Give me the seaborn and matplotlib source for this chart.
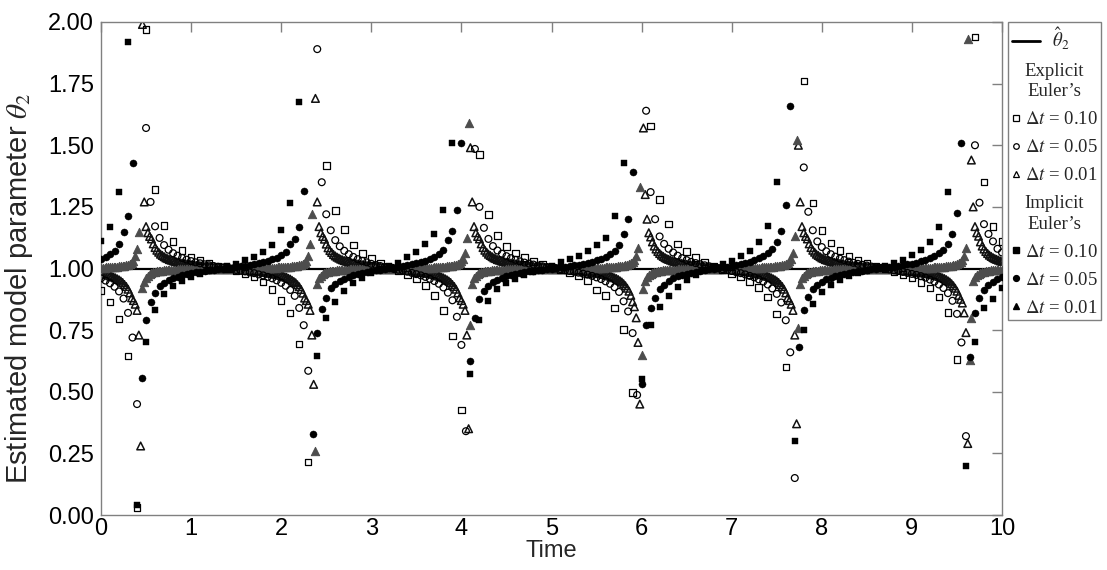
import numpy as np
import matplotlib
matplotlib.use("Agg")
import matplotlib.pyplot as plt
import seaborn as sns
from matplotlib.lines import Line2D
from matplotlib.patches import Rectangle
from matplotlib.legend_handler import HandlerLine2D

sns.set_theme(style="white")
plt.rcParams['font.family'] = ['Liberation Sans', 'DejaVu Sans']
plt.rcParams['mathtext.fontset'] = 'stix'

nan = np.nan

# ---------------- data ----------------
theta_true = 1.0
x_ticks = list(range(0, 11))
y_ticks = [0.0, 0.25, 0.5, 0.75, 1.0, 1.25, 1.5, 1.75, 2.0]

t_010 = np.round(np.arange(101) * 0.10, 2)
t_005 = np.round(np.arange(201) * 0.05, 2)
t_001 = np.round(np.arange(501) * 0.02, 2)   # dt = 0.01 solutions shown every other step

explicit_010 = [
    0.91, 0.864, 0.795, 0.645, 0.03, 1.97, 1.32, 1.174, 1.109, 1.072,
    1.045, 1.032, 1.02, 1.01, 1.0, 0.99, 0.979, 0.965, 0.945, 0.915,
    0.87, 0.82, 0.694, 0.215, 2.64, 1.417, 1.235, 1.158, 1.095, 1.06,
    1.04, 1.02, 1.005, 0.99, 0.976, 0.958, 0.93, 0.89, 0.83, 0.727,
    0.426, 6.0, 1.462, 1.22, 1.133, 1.09, 1.062, 1.044, 1.029, 1.016,
    1.005, 0.994, 0.983, 0.97, 0.952, 0.912, 0.89, 0.84, 0.753, 0.497,
    nan, 1.578, 1.28, 1.18, 1.10, 1.07, 1.045, 1.027, 1.01, 0.995,
    0.98, 0.966, 0.947, 0.922, 0.884, 0.816, 0.60, -0.64, 1.76, 1.265,
    1.155, 1.103, 1.072, 1.051, 1.034, 1.021, 1.009, 0.998, 0.987, 0.975,
    0.961, 0.944, 0.92, 0.885, 0.822, 0.63, -0.22, 1.94, 1.35, 1.17,
    1.11]

implicit_010 = [
    1.11, 1.17, 1.31, 1.92, 0.04, 0.70, 0.83, 0.895, 0.928, 0.949,
    0.965, 0.978, 0.989, 0.999, 1.009, 1.02, 1.033, 1.048, 1.068, 1.097,
    1.158, 1.264, 1.676, -0.54, 0.645, 0.80, 0.865, 0.91, 0.94, 0.962,
    0.98, 0.996, 1.009, 1.022, 1.045, 1.068, 1.10, 1.14, 1.237, 1.51,
    -3.7, 0.57, 0.79, 0.87, 0.917, 0.941, 0.959, 0.973, 0.985, 0.995,
    1.01, 1.028, 1.038, 1.052, 1.07, 1.095, 1.125, 1.213, 1.43, nan,
    0.55, 0.77, 0.845, 0.89, 0.925, 0.952, 0.972, 0.992, 1.008, 1.02,
    1.032, 1.05, 1.073, 1.109, 1.173, 1.35, 2.54, 0.30, 0.75, 0.854,
    0.903, 0.933, 0.952, 0.968, 0.98, 0.991, 1.002, 1.012, 1.023, 1.036,
    1.053, 1.075, 1.108, 1.168, 1.31, 2.15, 0.20, 0.70, 0.84, 0.875,
    0.92]

explicit_005 = [
    0.96, 0.951, 0.94, 0.926, 0.907, 0.878, 0.82, 0.72, 0.45, nan,
    1.57, 1.27, 1.171, 1.124, 1.095, 1.076, 1.062, 1.052, 1.043, 1.036,
    1.03, 1.025, 1.021, 1.017, 1.013, 1.01, 1.007, 1.004, 1.001, 0.998,
    0.994, 0.991, 0.988, 0.984, 0.981, 0.976, 0.972, 0.966, 0.96, 0.952,
    0.942, 0.93, 0.913, 0.889, 0.84, 0.77, 0.585, -0.39, 1.89, 1.35,
    1.22, 1.155, 1.115, 1.09, 1.072, 1.058, 1.047, 1.038, 1.031, 1.025,
    1.019, 1.014, 1.01, 1.006, 1.002, 0.998, 0.995, 0.991, 0.987, 0.982,
    0.977, 0.972, 0.966, 0.958, 0.949, 0.938, 0.923, 0.902, 0.871, 0.804,
    0.69, 0.34, 3.8, 1.485, 1.25, 1.165, 1.12, 1.091, 1.073, 1.06,
    1.05, 1.042, 1.035, 1.029, 1.024, 1.02, 1.016, 1.012, 1.009, 1.006,
    1.003, 1.0, 0.997, 0.993, 0.99, 0.987, 0.983, 0.979, 0.975, 0.97,
    0.964, 0.957, 0.948, 0.938, 0.924, 0.905, 0.867, 0.826, 0.738, 0.487,
    nan, 1.64, 1.31, 1.20, 1.13, 1.10, 1.08, 1.065, 1.052, 1.042,
    1.034, 1.027, 1.022, 1.017, 1.013, 1.009, 1.005, 1.001, 0.997, 0.994,
    0.99, 0.985, 0.981, 0.976, 0.97, 0.964, 0.956, 0.947, 0.935, 0.919,
    0.897, 0.862, 0.79, 0.66, 0.15, 2.39, 1.41, 1.23, 1.155, 1.11,
    1.087, 1.07, 1.058, 1.048, 1.04, 1.034, 1.028, 1.023, 1.019, 1.015,
    1.012, 1.008, 1.005, 1.002, 0.999, 0.996, 0.993, 0.99, 0.986, 0.982,
    0.978, 0.974, 0.969, 0.963, 0.955, 0.947, 0.935, 0.921, 0.90, 0.869,
    0.816, 0.70, 0.32, 3.8, 1.50, 1.267, 1.18, 1.14, 1.11, 1.08,
    1.065]

implicit_005 = [
    1.037, 1.046, 1.057, 1.071, 1.10, 1.147, 1.213, 1.426, nan, 0.557,
    0.79, 0.865, 0.90, 0.927, 0.942, 0.952, 0.96, 0.967, 0.972, 0.977,
    0.98, 0.984, 0.987, 0.99, 0.992, 0.995, 0.997, 1.0, 1.002, 1.004,
    1.007, 1.009, 1.012, 1.015, 1.018, 1.022, 1.026, 1.031, 1.037, 1.044,
    1.054, 1.067, 1.10, 1.12, 1.17, 1.315, 2.06, 0.33, 0.737, 0.834,
    0.88, 0.921, 0.938, 0.95, 0.959, 0.967, 0.973, 0.977, 0.982, 0.986,
    0.989, 0.992, 0.995, 0.998, 1.001, 1.004, 1.007, 1.01, 1.014, 1.017,
    1.022, 1.026, 1.032, 1.039, 1.048, 1.059, 1.075, 1.115, 1.151, 1.237,
    1.51, -1.14, 0.624, 0.80, 0.878, 0.91, 0.93, 0.944, 0.954, 0.962,
    0.968, 0.973, 0.978, 0.981, 0.985, 0.988, 0.99, 0.993, 0.995, 0.998,
    1.0, 1.003, 1.005, 1.008, 1.01, 1.013, 1.016, 1.019, 1.023, 1.028,
    1.033, 1.04, 1.048, 1.058, 1.073, 1.095, 1.14, 1.20, 1.39, nan,
    0.53, 0.77, 0.84, 0.88, 0.915, 0.935, 0.95, 0.962, 0.969, 0.974,
    0.979, 0.983, 0.987, 0.99, 0.993, 0.996, 0.999, 1.002, 1.005, 1.008,
    1.011, 1.015, 1.018, 1.023, 1.028, 1.033, 1.041, 1.05, 1.062, 1.079,
    1.106, 1.152, 1.256, 1.66, -0.06, 0.68, 0.833, 0.886, 0.915, 0.933,
    0.946, 0.956, 0.963, 0.969, 0.974, 0.978, 0.982, 0.985, 0.988, 0.991,
    0.993, 0.996, 0.998, 1.001, 1.003, 1.005, 1.008, 1.011, 1.014, 1.017,
    1.02, 1.024, 1.029, 1.034, 1.041, 1.05, 1.061, 1.077, 1.101, 1.141,
    1.227, 1.51, -1.14, 0.64, 0.818, 0.879, 0.912, 0.932, 0.946, 0.956,
    0.964]

explicit_001 = [
    # 0.00 - 0.44
    0.980, 0.978, 0.977, 0.975, 0.973, 0.970, 0.968, 0.965, 0.962, 0.958,
    0.954, 0.949, 0.943, 0.935, 0.927, 0.916, 0.901, 0.881, 0.87, 0.855,
    0.83, 0.73, 0.28,
    # 0.46 - 1.40
    1.99, 1.27, 1.17, 1.145, 1.13, 1.12, 1.10, 1.085, 1.074, 1.066,
    1.058, 1.053, 1.048, 1.043, 1.040, 1.036, 1.034, 1.031, 1.029, 1.027,
    1.025, 1.023, 1.022, 1.020, 1.019, 1.018, 1.016, 1.015, 1.014, 1.013,
    1.012, 1.011, 1.011, 1.010, 1.009, 1.008, 1.007, 1.007, 1.006, 1.005,
    1.005, 1.004, 1.003, 1.003, 1.002, 1.002, 1.001, 1.000,
    # 1.42 - 2.36
    1.000, 0.999, 0.998, 0.998, 0.997, 0.997, 0.996, 0.995, 0.995, 0.994,
    0.993, 0.993, 0.992, 0.991, 0.990, 0.989, 0.989, 0.988, 0.987, 0.986,
    0.985, 0.984, 0.982, 0.981, 0.980, 0.978, 0.977, 0.975, 0.973, 0.971,
    0.969, 0.966, 0.964, 0.960, 0.957, 0.952, 0.947, 0.942, 0.934, 0.926,
    0.915, 0.900, 0.880, 0.87, 0.855, 0.83, 0.73, 0.53,
    # 2.38 - 3.22
    1.69, 1.27, 1.17, 1.145, 1.13, 1.119, 1.099, 1.084, 1.073, 1.065,
    1.057, 1.051, 1.046, 1.042, 1.038, 1.035, 1.032, 1.030, 1.027, 1.025,
    1.023, 1.022, 1.020, 1.019, 1.017, 1.016, 1.015, 1.013, 1.012, 1.011,
    1.010, 1.009, 1.008, 1.008, 1.007, 1.006, 1.005, 1.004, 1.003, 1.003,
    1.002, 1.001, 1.000,
    # 3.24 - 4.08
    1.000, 0.999, 0.998, 0.997, 0.997, 0.996, 0.995, 0.994, 0.993, 0.992,
    0.992, 0.991, 0.990, 0.989, 0.988, 0.987, 0.985, 0.984, 0.983, 0.981,
    0.980, 0.978, 0.977, 0.975, 0.973, 0.970, 0.968, 0.965, 0.962, 0.958,
    0.954, 0.949, 0.943, 0.935, 0.927, 0.916, 0.901, 0.881, 0.87, 0.855,
    0.83, 0.73, 0.35,
    # 4.10 - 5.04
    1.49, 1.27, 1.17, 1.145, 1.13, 1.12, 1.10, 1.085, 1.074, 1.066,
    1.058, 1.053, 1.048, 1.043, 1.040, 1.036, 1.034, 1.031, 1.029, 1.027,
    1.025, 1.023, 1.022, 1.020, 1.019, 1.018, 1.016, 1.015, 1.014, 1.013,
    1.012, 1.011, 1.011, 1.010, 1.009, 1.008, 1.007, 1.007, 1.006, 1.005,
    1.005, 1.004, 1.003, 1.003, 1.002, 1.002, 1.001, 1.000,
    # 5.06 - 6.00
    1.000, 0.999, 0.998, 0.998, 0.997, 0.996, 0.996, 0.995, 0.994, 0.994,
    0.993, 0.992, 0.992, 0.991, 0.990, 0.989, 0.988, 0.987, 0.986, 0.985,
    0.984, 0.983, 0.982, 0.981, 0.979, 0.978, 0.976, 0.974, 0.972, 0.970,
    0.968, 0.965, 0.962, 0.959, 0.955, 0.950, 0.945, 0.938, 0.930, 0.920,
    0.908, 0.891, 0.865, 0.845, 0.80, 0.70, 0.45, nan,
    # 6.02 - 6.86
    1.57, 1.30, 1.20, 1.145, 1.128, 1.108, 1.091, 1.079, 1.069, 1.061,
    1.054, 1.049, 1.044, 1.040, 1.037, 1.034, 1.031, 1.029, 1.026, 1.024,
    1.023, 1.021, 1.019, 1.018, 1.017, 1.015, 1.014, 1.013, 1.012, 1.011,
    1.010, 1.009, 1.008, 1.007, 1.006, 1.006, 1.005, 1.004, 1.003, 1.002,
    1.002, 1.001, 1.000,
    # 6.88 - 7.72
    1.000, 0.999, 0.998, 0.997, 0.997, 0.996, 0.995, 0.994, 0.993, 0.992,
    0.992, 0.991, 0.990, 0.989, 0.988, 0.987, 0.985, 0.984, 0.983, 0.981,
    0.980, 0.978, 0.977, 0.975, 0.973, 0.970, 0.968, 0.965, 0.962, 0.958,
    0.954, 0.949, 0.943, 0.935, 0.927, 0.916, 0.901, 0.881, 0.87, 0.855,
    0.83, 0.73, 0.37,
    # 7.74 - 8.68
    1.50, 1.27, 1.17, 1.145, 1.13, 1.12, 1.10, 1.085, 1.074, 1.066,
    1.058, 1.053, 1.048, 1.043, 1.040, 1.036, 1.034, 1.031, 1.029, 1.027,
    1.025, 1.023, 1.022, 1.020, 1.019, 1.018, 1.016, 1.015, 1.014, 1.013,
    1.012, 1.011, 1.011, 1.010, 1.009, 1.008, 1.007, 1.007, 1.006, 1.005,
    1.005, 1.004, 1.003, 1.003, 1.002, 1.002, 1.001, 1.000,
    # 8.70 - 9.64
    1.000, 0.999, 0.998, 0.998, 0.997, 0.996, 0.996, 0.995, 0.994, 0.994,
    0.993, 0.992, 0.992, 0.991, 0.990, 0.989, 0.988, 0.987, 0.986, 0.985,
    0.984, 0.983, 0.982, 0.981, 0.979, 0.978, 0.976, 0.974, 0.972, 0.970,
    0.968, 0.965, 0.962, 0.959, 0.955, 0.950, 0.945, 0.938, 0.930, 0.920,
    0.908, 0.891, 0.875, 0.86, 0.82, 0.74, 0.29, nan,
    # 9.66 - 10.00
    1.44, 1.25, 1.17, 1.145, 1.131, 1.108, 1.091, 1.079, 1.069, 1.061,
    1.054, 1.049, 1.044, 1.040, 1.037, 1.034, 1.031, 1.029]

implicit_001 = [
    # 0.00 - 0.44
    1.004, 1.004, 1.004, 1.005, 1.005, 1.006, 1.006, 1.007, 1.007, 1.008,
    1.009, 1.010, 1.011, 1.012, 1.014, 1.016, 1.019, 1.023, 1.030, 1.05,
    1.08, 1.15, nan,
    # 0.46 - 1.38
    0.92, 0.945, 0.960, 0.970, 0.976, 0.981, 0.984, 0.986, 0.988, 0.989,
    0.990, 0.991, 0.992, 0.993, 0.993, 0.994, 0.994, 0.995, 0.995, 0.995,
    0.996, 0.996, 0.996, 0.997, 0.997, 0.997, 0.997, 0.997, 0.998, 0.998,
    0.998, 0.998, 0.998, 0.998, 0.999, 0.999, 0.999, 0.999, 0.999, 1.0,
    1.0, 1.0, 1.0, 1.0, 1.0, 1.0, 1.0,
    # 1.40 - 2.36
    1.0, 1.0, 1.0, 1.0, 1.0, 1.0, 1.001, 1.001, 1.001, 1.001,
    1.001, 1.001, 1.001, 1.002, 1.002, 1.002, 1.002, 1.002, 1.002, 1.002,
    1.003, 1.003, 1.003, 1.003, 1.003, 1.004, 1.004, 1.004, 1.005, 1.005,
    1.005, 1.006, 1.006, 1.007, 1.007, 1.008, 1.009, 1.010, 1.011, 1.012,
    1.014, 1.016, 1.019, 1.024, 1.030, 1.05, 1.10, 1.22, nan,
    # 2.38 - 3.30
    0.26, 0.939, 0.960, 0.970, 0.977, 0.981, 0.984, 0.986, 0.988, 0.989,
    0.990, 0.991, 0.992, 0.993, 0.993, 0.994, 0.994, 0.995, 0.995, 0.996,
    0.996, 0.996, 0.997, 0.997, 0.997, 0.997, 0.997, 0.998, 0.998, 0.998,
    0.998, 0.998, 0.998, 0.998, 0.999, 0.999, 0.999, 0.999, 0.999, 1.0,
    1.0, 1.0, 1.0, 1.0, 1.0, 1.0, 1.0,
    # 3.32 - 4.08
    1.001, 1.001, 1.001, 1.002, 1.002, 1.002, 1.002, 1.002, 1.002, 1.002,
    1.002, 1.003, 1.003, 1.003, 1.003, 1.003, 1.004, 1.004, 1.004, 1.005,
    1.005, 1.006, 1.006, 1.007, 1.007, 1.008, 1.009, 1.010, 1.011, 1.012,
    1.014, 1.016, 1.019, 1.023, 1.030, 1.040, 1.061, 1.124, 1.59,
    # 4.10 - 5.02
    0.77, 0.939, 0.960, 0.970, 0.976, 0.981, 0.984, 0.986, 0.988, 0.989,
    0.990, 0.991, 0.992, 0.993, 0.993, 0.994, 0.994, 0.995, 0.995, 0.995,
    0.996, 0.996, 0.996, 0.997, 0.997, 0.997, 0.997, 0.997, 0.997, 0.998,
    0.998, 0.998, 0.998, 0.998, 0.999, 0.999, 0.999, 0.999, 0.999, 1.0,
    1.0, 1.0, 1.0, 1.0, 1.0, 1.0, 1.0,
    # 5.04 - 5.98
    1.0, 1.0, 1.0, 1.0, 1.0, 1.0, 1.001, 1.001, 1.001, 1.001,
    1.001, 1.001, 1.002, 1.002, 1.002, 1.002, 1.002, 1.002, 1.003, 1.003,
    1.003, 1.003, 1.003, 1.003, 1.004, 1.004, 1.004, 1.004, 1.005, 1.005,
    1.006, 1.006, 1.007, 1.007, 1.008, 1.009, 1.009, 1.010, 1.012, 1.013,
    1.015, 1.018, 1.021, 1.026, 1.034, 1.049, 1.083, 1.33,
    # 6.00 - 6.92
    0.65, 0.918, 0.951, 0.966, 0.974, 0.979, 0.982, 0.985, 0.987, 0.988,
    0.990, 0.991, 0.992, 0.992, 0.993, 0.994, 0.994, 0.995, 0.995, 0.995,
    0.996, 0.996, 0.996, 0.997, 0.997, 0.997, 0.997, 0.998, 0.998, 0.998,
    0.998, 0.998, 0.998, 0.998, 0.998, 0.999, 0.999, 0.999, 0.999, 0.999,
    1.0, 1.0, 1.0, 1.0, 1.0, 1.0, 1.0,
    # 6.94 - 7.72
    1.001, 1.001, 1.001, 1.001, 1.001, 1.002, 1.002, 1.002, 1.002, 1.002,
    1.002, 1.002, 1.003, 1.003, 1.003, 1.003, 1.003, 1.004, 1.004, 1.004,
    1.005, 1.005, 1.006, 1.006, 1.007, 1.007, 1.008, 1.009, 1.010, 1.011,
    1.012, 1.014, 1.016, 1.019, 1.023, 1.030, 1.040, 1.061, 1.13, 1.52,
    # 7.74 - 8.66
    0.76, 0.939, 0.960, 0.970, 0.976, 0.981, 0.984, 0.986, 0.988, 0.989,
    0.990, 0.991, 0.992, 0.993, 0.993, 0.994, 0.994, 0.995, 0.995, 0.995,
    0.996, 0.996, 0.996, 0.997, 0.997, 0.997, 0.997, 0.997, 0.997, 0.998,
    0.998, 0.998, 0.998, 0.998, 0.999, 0.999, 0.999, 0.999, 0.999, 1.0,
    1.0, 1.0, 1.0, 1.0, 1.0, 1.0, 1.0,
    # 8.68 - 9.62
    1.0, 1.0, 1.0, 1.0, 1.0, 1.0, 1.001, 1.001, 1.001, 1.001,
    1.001, 1.001, 1.002, 1.002, 1.002, 1.002, 1.002, 1.002, 1.003, 1.003,
    1.003, 1.003, 1.003, 1.003, 1.004, 1.004, 1.004, 1.004, 1.005, 1.005,
    1.006, 1.006, 1.007, 1.007, 1.008, 1.009, 1.009, 1.010, 1.012, 1.013,
    1.015, 1.018, 1.021, 1.026, 1.034, 1.049, 1.083, 1.93,
    # 9.64 - 10.00
    0.63, 0.80, 0.951, 0.966, 0.974, 0.979, 0.982, 0.985, 0.987, 0.988,
    0.990, 0.991, 0.992, 0.992, 0.993, 0.994, 0.994, 0.995, 0.995]

for name, arr, ref in [("e10", explicit_010, t_010), ("i10", implicit_010, t_010),
                       ("e05", explicit_005, t_005), ("i05", implicit_005, t_005),
                       ("e01", explicit_001, t_001), ("i01", implicit_001, t_001)]:
    assert len(arr) == len(ref), (name, len(arr), len(ref))

# ---------------- figure ----------------
fig = plt.figure(figsize=(11.07, 5.70), dpi=100)
ax = fig.add_axes([101 / 1107, 55 / 570, 901 / 1107, 493 / 570])

sns.lineplot(x=[0, 10], y=[theta_true, theta_true], ax=ax, color='black',
             linewidth=1.6, zorder=1)

sns.scatterplot(x=t_001, y=explicit_001, ax=ax, marker='^', s=30,
                facecolor='none', edgecolor='#111111', linewidth=1.1,
                legend=False, zorder=2)
sns.scatterplot(x=t_001, y=implicit_001, ax=ax, marker='^', s=36,
                color='#4d4d4d', edgecolor='#4d4d4d', linewidth=0.7,
                legend=False, zorder=3)
sns.scatterplot(x=t_005, y=explicit_005, ax=ax, marker='o', s=24,
                facecolor='none', edgecolor='black', linewidth=0.9,
                legend=False, zorder=4)
sns.scatterplot(x=t_010, y=explicit_010, ax=ax, marker='s', s=22,
                facecolor='none', edgecolor='black', linewidth=0.9,
                legend=False, zorder=4)
sns.scatterplot(x=t_005, y=implicit_005, ax=ax, marker='o', s=26,
                color='black', edgecolor='black', linewidth=0.3,
                legend=False, zorder=5)
sns.scatterplot(x=t_010, y=implicit_010, ax=ax, marker='s', s=22,
                color='black', edgecolor='black', linewidth=0.3,
                legend=False, zorder=5)

ax.set_xlim(0, 10)
ax.set_ylim(0, 2)
ax.set_xticks(x_ticks)
ax.set_yticks(y_ticks)
ax.set_xticklabels([str(v) for v in x_ticks])
ax.set_yticklabels([f"{v:.2f}" for v in y_ticks])
ax.tick_params(direction='in', length=7, width=1, color='#808080',
               top=True, right=True, labelsize=17, labelcolor='black')
ax.tick_params(axis='x', pad=2)
ax.tick_params(axis='y', pad=5)
for sp in ax.spines.values():
    sp.set_color('#808080')
    sp.set_linewidth(1.0)
ax.set_xlabel('Time', fontsize=17, labelpad=0)
ax.set_ylabel(r'Estimated model parameter $\theta_2$', fontsize=21)
ax.yaxis.set_label_coords(-0.073, 0.46)


class LongLineHandler(HandlerLine2D):
    def create_artists(self, legend, orig_handle, xdescent, ydescent,
                       width, height, fontsize, trans):
        y = height / 2.0 - ydescent
        line = Line2D([-xdescent, -xdescent + width + 1.1 * fontsize], [y, y],
                      color='black', linewidth=2.0)
        line.set_transform(trans)
        return [line]


blank = Rectangle((0, 0), 1, 1, visible=False)
h_true = Line2D([], [], color='black', linewidth=2.0)
h_e10 = Line2D([], [], ls='none', marker='s', ms=3.8, mfc='none', mec='black', mew=0.9)
h_e05 = Line2D([], [], ls='none', marker='o', ms=4.0, mfc='none', mec='black', mew=0.9)
h_e01 = Line2D([], [], ls='none', marker='^', ms=4.4, mfc='none', mec='black', mew=0.9)
h_i10 = Line2D([], [], ls='none', marker='s', ms=3.8, mfc='black', mec='black')
h_i05 = Line2D([], [], ls='none', marker='o', ms=4.2, mfc='black', mec='black')
h_i01 = Line2D([], [], ls='none', marker='^', ms=4.6, mfc='black', mec='black')

handles = [h_true, blank, h_e10, h_e05, h_e01, blank, h_i10, h_i05, h_i01]
labels = [r'$\qquad\hat{\theta}_2$', 'Explicit\nEuler\u2019s',
          r'$\Delta t$ = 0.10', r'$\Delta t$ = 0.05', r'$\Delta t$ = 0.01',
          'Implicit\nEuler\u2019s',
          r'$\Delta t$ = 0.10', r'$\Delta t$ = 0.05', r'$\Delta t$ = 0.01']

leg = ax.legend(handles, labels, loc='upper left', bbox_to_anchor=(1.0067, 1.0),
                borderaxespad=0.0, frameon=True, fancybox=False, framealpha=1,
                edgecolor='#808080', handlelength=0.4, handletextpad=0.28,
                borderpad=0.2, labelspacing=0.58, numpoints=1,
                prop={'family': ['Liberation Serif', 'DejaVu Serif'], 'size': 13.5},
                handler_map={h_true: LongLineHandler()})
leg.get_frame().set_linewidth(1.0)
for txt in leg.get_texts():
    txt.set_multialignment('center')
    txt.set_linespacing(1.25)

fig.savefig('out.png', dpi=100)
